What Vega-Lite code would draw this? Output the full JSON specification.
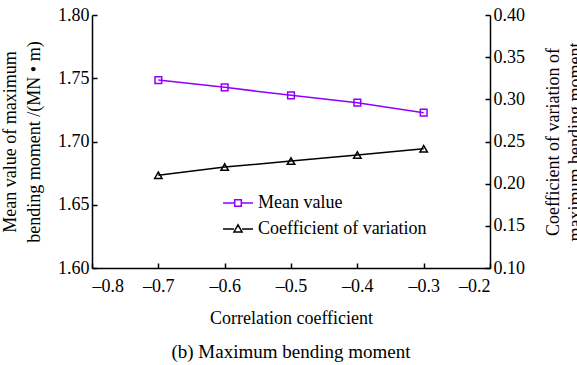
{
  "$schema": "https://vega.github.io/schema/vega-lite/v6.json",
  "autosize": "none",
  "width": 398,
  "height": 253,
  "padding": {"left": 92, "top": 15, "right": 87, "bottom": 97},
  "background": "white",
  "config": {
    "font": "Liberation Serif",
    "view": {"stroke": null},
    "axis": {"labelFont": "Liberation Serif", "titleFont": "Liberation Serif", "labelFontSize": 18, "titleFontSize": 18, "titleFontWeight": "normal", "labelColor": "black", "titleColor": "black", "domainColor": "black", "tickColor": "black", "domainWidth": 1.5, "tickWidth": 1.5, "grid": false}
  },
  "title": {"text": "(b) Maximum bending moment", "orient": "bottom", "font": "Liberation Serif", "fontSize": 19, "fontWeight": "normal", "color": "black", "offset": 16},
  "data": {"values": [
    {"r": -0.7, "series": "Mean value", "v": 1.7486},
    {"r": -0.6, "series": "Mean value", "v": 1.7428},
    {"r": -0.5, "series": "Mean value", "v": 1.7365},
    {"r": -0.4, "series": "Mean value", "v": 1.7307},
    {"r": -0.3, "series": "Mean value", "v": 1.7228},
    {"r": -0.7, "series": "Coefficient of variation", "v": 0.210},
    {"r": -0.6, "series": "Coefficient of variation", "v": 0.2197},
    {"r": -0.5, "series": "Coefficient of variation", "v": 0.2268},
    {"r": -0.4, "series": "Coefficient of variation", "v": 0.234},
    {"r": -0.3, "series": "Coefficient of variation", "v": 0.2414}
  ]},
  "encoding": {
    "x": {"field": "r", "type": "quantitative", "scale": {"domain": [-0.8, -0.2], "nice": false, "zero": false},
      "axis": {"title": "Correlation coefficient", "values": [-0.8, -0.7, -0.6, -0.5, -0.4, -0.3, -0.2], "labelExpr": "'–' + format(abs(datum.value), '.1f')", "tickSize": -5, "labelPadding": 14, "titlePadding": 14, "labelFont": "Liberation Serif", "titleFont": "Liberation Serif"}},
    "color": {"field": "series", "type": "nominal", "scale": {"domain": ["Mean value", "Coefficient of variation"], "range": ["#8f00ff", "black"]},
      "legend": {"title": null, "orient": "none", "legendX": 130, "legendY": 172, "symbolSize": 900, "symbolStrokeWidth": 1.5, "symbolFillColor": "transparent", "labelFont": "Liberation Serif", "labelFontSize": 18, "labelLimit": 400, "labelColor": "black", "rowPadding": 1, "labelOffset": 4,
        "encode": {"symbols": {"update": {"shape": {"signal": "datum.value === 'Mean value' ? 'M-1,0H-0.24M0.24,0H1M-0.22,-0.22H0.22V0.22H-0.22Z' : 'M-1,0H-0.27M0.27,0H1M-0.27,0.2L0,-0.28L0.27,0.2Z'"}, "fill": {"value": "transparent"}}}}}}
  },
  "layer": [
    {
      "transform": [{"filter": "datum.series === 'Mean value'"}],
      "encoding": {"y": {"field": "v", "type": "quantitative", "scale": {"domain": [1.6, 1.8], "nice": false, "zero": false},
        "axis": {"orient": "left", "values": [1.6, 1.65, 1.7, 1.75, 1.8], "format": ".2f", "tickSize": -5, "labelPadding": 8, "labelFont": "Liberation Serif", "titleFont": "Liberation Serif", "title": ["Mean value of maximum", "bending moment /(MN • m)"], "titlePadding": 14, "titleLineHeight": 24}}},
      "layer": [
        {"mark": {"type": "line", "strokeWidth": 1.5}},
        {"mark": {"type": "point", "shape": "square", "filled": false, "size": 45, "strokeWidth": 1.5, "opacity": 1}}
      ]
    },
    {
      "transform": [{"filter": "datum.series === 'Coefficient of variation'"}],
      "encoding": {"y": {"field": "v", "type": "quantitative", "scale": {"domain": [0.1, 0.4], "nice": false, "zero": false},
        "axis": {"orient": "right", "values": [0.1, 0.15, 0.2, 0.25, 0.3, 0.35, 0.4], "format": ".2f", "tickSize": -5, "labelPadding": 8, "labelFont": "Liberation Serif", "titleFont": "Liberation Serif", "title": ["Coefficient of variation of", "maximum bending moment"], "titleAngle": 270, "titlePadding": 16, "titleLineHeight": 22}}},
      "layer": [
        {"mark": {"type": "line", "strokeWidth": 1.5}},
        {"mark": {"type": "point", "shape": "triangle-up", "filled": false, "size": 55, "strokeWidth": 1.5, "opacity": 1}}
      ]
    }
  ],
  "resolve": {"scale": {"y": "independent"}}
}
